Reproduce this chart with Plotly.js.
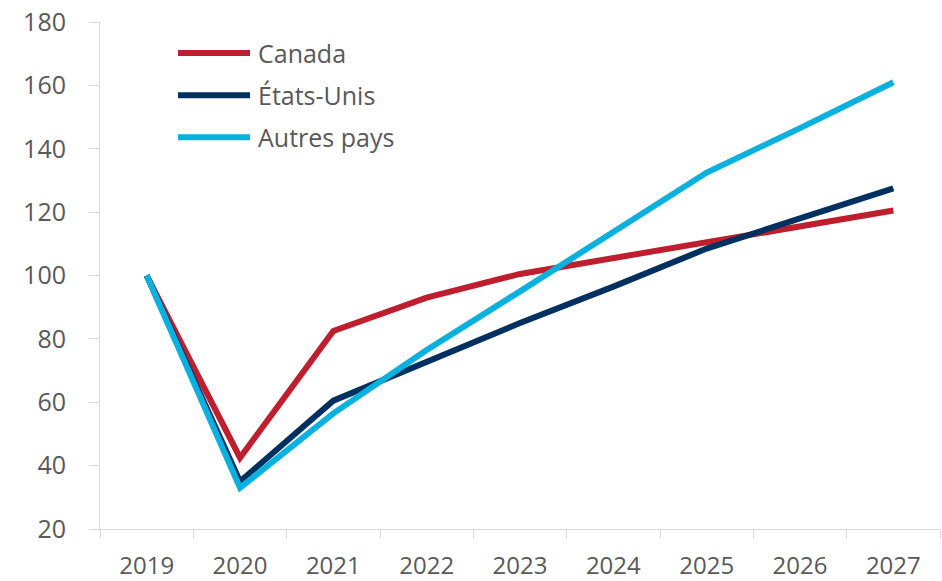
<!DOCTYPE html>
<html>
<head>
<meta charset="utf-8">
<script src="https://cdn.plot.ly/plotly-3.0.1.min.js"></script>
<style>html,body{margin:0;padding:0;background:#fff;}#chart{width:942px;height:581px;}</style>
</head>
<body>
<div id="chart"></div>
<script>
const years = ["2019","2020","2021","2022","2023","2024","2025","2026","2027"];
const seriesNames = ["Canada","États-Unis","Autres pays"];
const canada = [100, 42.5, 82.5, 93, 100.5, 105.5, 110.5, 115.5, 120.5];
const etatsUnis = [100, 35, 60.5, 73, 85, 96.5, 108.5, 118, 127.5];
const autresPays = [100, 33, 56.5, 76.5, 95, 113.5, 132.5, 146.5, 161];
const yTicks = [20, 40, 60, 80, 100, 120, 140, 160, 180];

const colors = ["#BE1E2D", "#00305F", "#0BB1DE"];
const values = [canada, etatsUnis, autresPays];
const FONT = "'Open Sans', 'Liberation Sans', sans-serif";
const GRAY = "#595959";
const AXIS = "#D9D9D9";

const traces = values.map((v, i) => ({
  type: "scatter", mode: "lines", name: seriesNames[i],
  x: years, y: v,
  line: {color: colors[i], width: 6},
  showlegend: false, hoverinfo: "x+y+name"
}));

// legend drawn in paper coordinates
const legendY = [0.9387, 0.8557, 0.7727];
const shapes = seriesNames.map((n, i) => ({
  type: "line", xref: "paper", yref: "paper",
  x0: 0.0929, x1: 0.1786, y0: legendY[i], y1: legendY[i],
  line: {color: colors[i], width: 6}
}));
const annotations = seriesNames.map((n, i) => ({
  xref: "paper", yref: "paper", x: 0.1857, y: legendY[i],
  xanchor: "left", yanchor: "middle", text: n, showarrow: false,
  font: {family: FONT, size: 25, color: GRAY}
}));

const layout = {
  width: 942, height: 581,
  margin: {l: 100, r: 2, t: 22, b: 52},
  paper_bgcolor: "#fff", plot_bgcolor: "#fff",
  font: {family: FONT, size: 25, color: GRAY},
  xaxis: {
    type: "category", range: [-0.5, years.length - 0.5],
    tickson: "boundaries", ticks: "outside", ticklen: 8, tickcolor: AXIS, tickwidth: 1,
    showline: true, linecolor: AXIS, linewidth: 1, showgrid: false, zeroline: false,
    tickfont: {family: FONT, size: 24, color: GRAY}, ticklabelstandoff: 15,
    automargin: false, fixedrange: true
  },
  yaxis: {
    range: [20, 180], tickvals: yTicks, ticks: "outside", ticklen: 10, tickcolor: AXIS, tickwidth: 1,
    showline: true, linecolor: AXIS, linewidth: 1, showgrid: false, zeroline: false,
    tickfont: {family: FONT, size: 25, color: GRAY}, ticklabelstandoff: 18,
    automargin: false, fixedrange: true
  },
  shapes: shapes,
  annotations: annotations,
  showlegend: false
};

Plotly.newPlot("chart", traces, layout, {staticPlot: true, displayModeBar: false});
</script>
</body>
</html>
